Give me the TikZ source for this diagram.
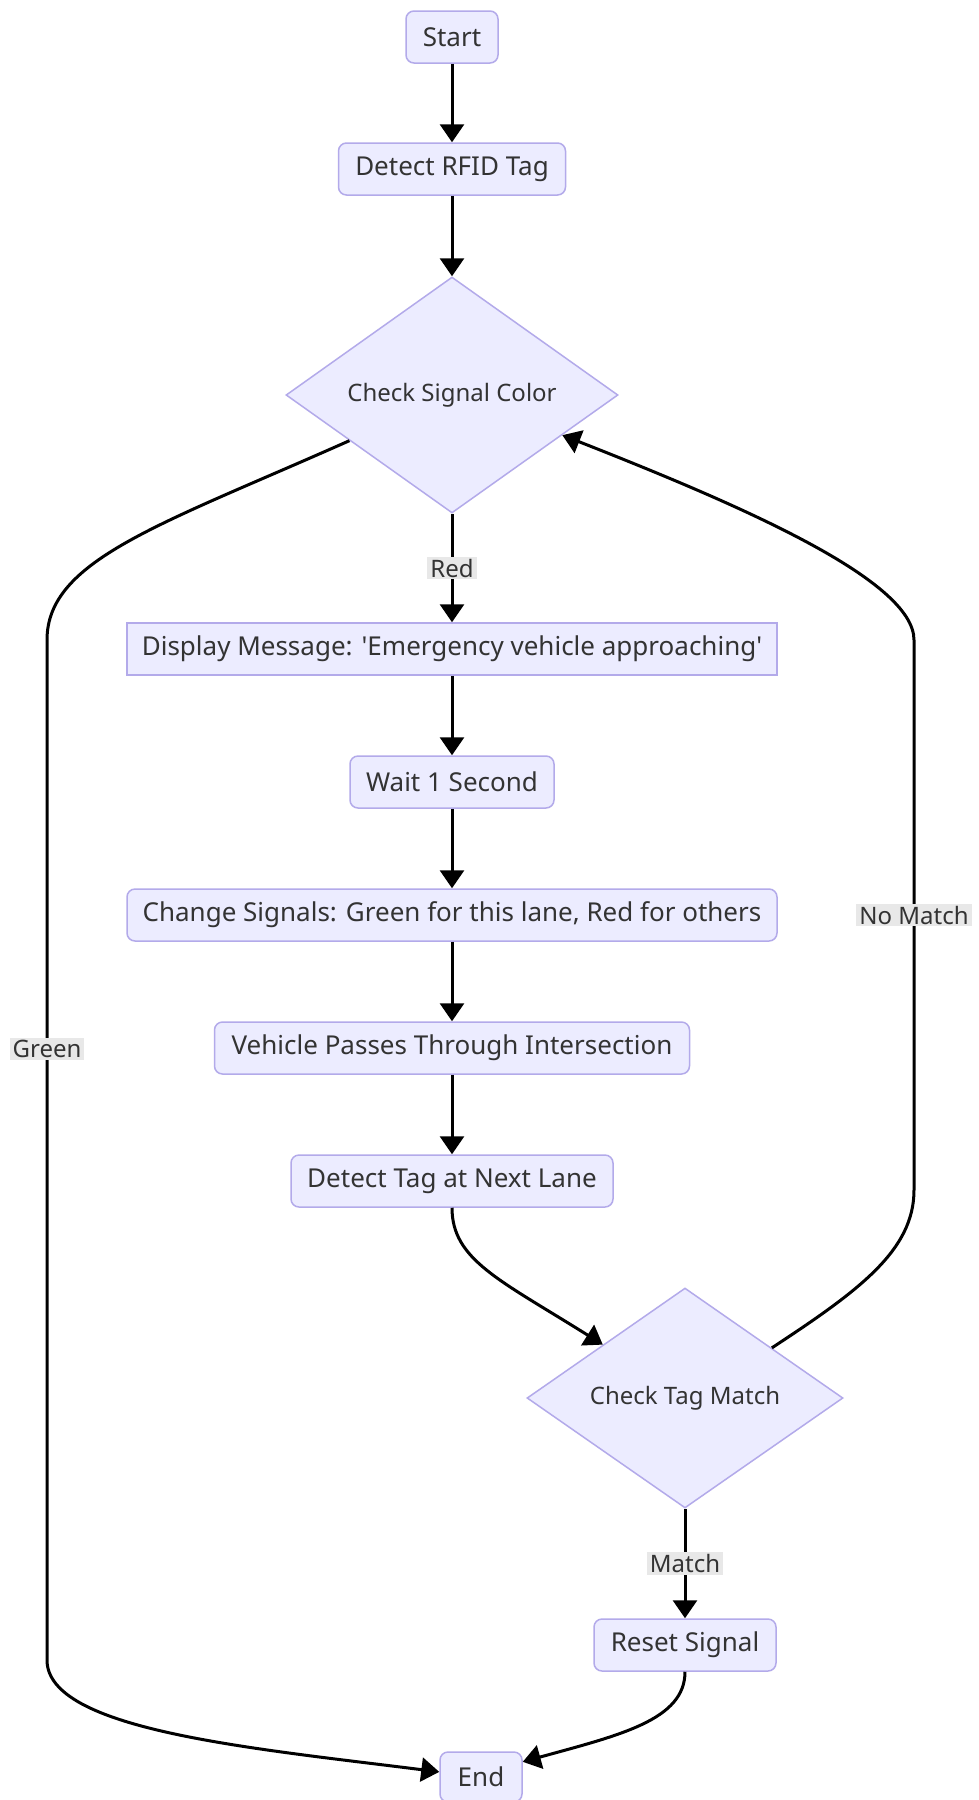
\documentclass[tikz,border=0pt]{standalone}
\usepackage{fontspec}
\setmainfont{Noto Sans}
\usetikzlibrary{shapes.geometric,arrows.meta}
\definecolor{nodefill}{HTML}{ECECFF}
\definecolor{nodeline}{HTML}{B3AAEA}
\definecolor{txt}{HTML}{333333}
\definecolor{lblbg}{HTML}{E8E8E8}
\begin{document}
\begin{tikzpicture}[x=1pt,y=1pt,
  boxfont/.style={font=\fontsize{26}{30}\selectfont},
  smallfont/.style={font=\fontsize{24}{28}\selectfont},
  box/.style={draw=nodeline, fill=nodefill, line width=1.5pt, minimum height=52pt,
    inner sep=0pt, text=txt, boxfont},
  rbox/.style={box, rounded corners=8pt},
  dia/.style={diamond, draw=nodeline, fill=nodefill, line width=1.5pt, inner sep=0pt,
    text=txt, smallfont},
  flow/.style={line width=3pt, draw=black, -{Triangle[length=18pt,width=24pt]}},
  elabel/.style={fill=lblbg, text=txt, inner xsep=3pt, inner ysep=2pt, smallfont}
]
\fill[white] (0,0) rectangle (979,-1800);
\useasboundingbox (0,0) rectangle (979,-1800);

\node[rbox, minimum width=92pt] (start) at (452,-37) {Start};
\node[rbox, minimum width=227pt] (rfid) at (452,-169) {Detect RFID Tag};
\node[dia, minimum width=332pt, minimum height=236pt] (csc) at (452,-395) {Check Signal Color};
\node[box, minimum width=650pt] (disp) at (452,-649) {Display Message: \textquotesingle Emergency vehicle approaching\textquotesingle};
\node[rbox, minimum width=204pt] (wait) at (452,-782) {Wait 1 Second};
\node[rbox, minimum width=650pt] (chg) at (452,-915) {Change Signals: Green for this lane, Red for others};
\node[rbox, minimum width=475pt] (veh) at (452,-1048) {Vehicle Passes Through Intersection};
\node[rbox, minimum width=322pt] (dtag) at (452,-1181) {Detect Tag at Next Lane};
\node[dia, minimum width=316pt, minimum height=220pt] (ctm) at (685,-1398) {Check Tag Match};
\node[rbox, minimum width=182pt] (reset) at (685,-1645) {Reset Signal};
\node[rbox, minimum width=82pt, minimum height=50pt] (fin) at (481,-1777) {End};

\draw[flow] (start) -- (rfid);
\draw[flow] (rfid) -- (csc);
\draw[flow] (csc) -- node[elabel] {Red} (disp);
\draw[flow] (disp) -- (wait);
\draw[flow] (wait) -- (chg);
\draw[flow] (chg) -- (veh);
\draw[flow] (veh) -- (dtag);
\draw[flow] (dtag.south) .. controls (452,-1260) and (500,-1280) .. (ctm.147);
\draw[flow] (ctm) -- node[elabel] {Match} (reset);
\draw[flow] (reset.south) .. controls (685,-1720) and (620,-1735) .. (fin.20);
\draw[flow] (csc.204) .. controls (160,-525) and (47,-560) .. (47,-640)
  -- node[elabel, pos=0.401] {Green} (47,-1660)
  .. controls (47,-1730) and (250,-1748) .. (fin.173);
\draw[flow] (ctm.30) .. controls (860,-1290) and (914,-1250) .. (914,-1190)
  -- node[elabel] {No Match} (914,-640)
  .. controls (914,-580) and (740,-505) .. (csc.-20);
\end{tikzpicture}
\end{document}
